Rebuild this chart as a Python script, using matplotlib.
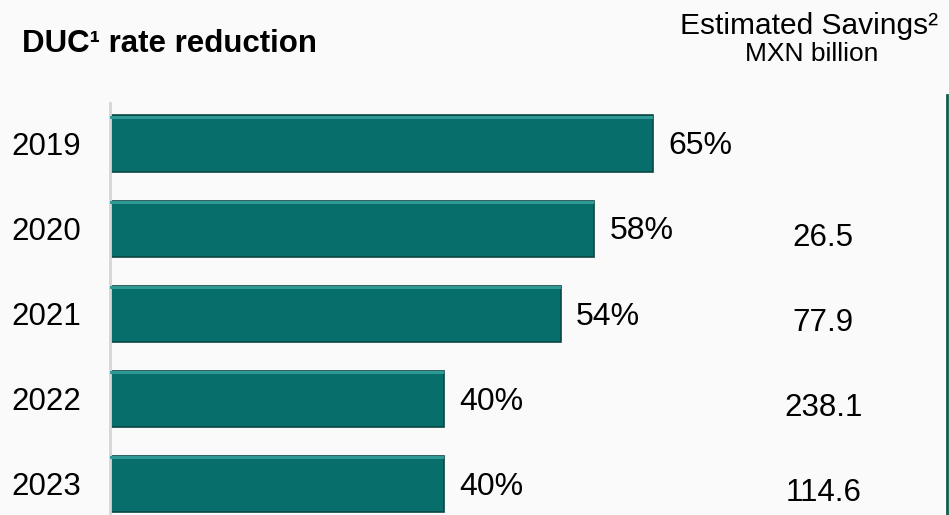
import matplotlib.pyplot as plt
from matplotlib.lines import Line2D

plt.rcParams['font.family'] = ['Liberation Sans', 'DejaVu Sans']

years = ["2019", "2020", "2021", "2022", "2023"]
duc_reduction = [65, 58, 54, 40, 40]          # percent
savings = [None, 26.5, 77.9, 238.1, 114.6]    # MXN billion

bar_color = "#076e6c"
edge_dark = "#0b4644"
edge_light = "#2f9a95"

fig = plt.figure(figsize=(9.49, 5.15), dpi=100)
fig.patch.set_facecolor("#fafafa")

ax = fig.add_axes([110 / 949, 0, 835 / 949, 412 / 515])
ax.set_facecolor("none")

pos = list(range(len(years)))
h = 0.66
ax.barh(pos, duc_reduction, height=h, color=bar_color,
        edgecolor=edge_dark, linewidth=1.2, zorder=2)
# light strip along the top of each bar for the bevel look
ax.barh([p - h / 2 + 0.022 for p in pos], duc_reduction, height=0.03,
        color=edge_light, linewidth=0, zorder=3)

ax.set_xlim(0, 100)
ax.set_ylim(4.365, -0.476)

ax.set_yticks(pos)
ax.set_yticklabels(years, fontsize=22.5)
ax.tick_params(axis="y", length=0, pad=21)
ax.set_xticks([])

for side in ["top", "right", "bottom"]:
    ax.spines[side].set_visible(False)
ax.spines["left"].set_color("#d6d6d6")
ax.spines["left"].set_linewidth(2)

for p, v in zip(pos, duc_reduction):
    ax.annotate(f"{v}%", xy=(v, p), xytext=(11, -2), textcoords="offset points",
                ha="left", va="center", fontsize=23)

for p, s in zip(pos, savings):
    if s is None:
        continue
    ax.annotate(f"{s}", xy=(85.4, p), xytext=(0, -6.5), textcoords="offset points",
                ha="center", va="center", fontsize=22.5)

fig.text(22 / 949, 1 - 52 / 515, "DUC\u00b9 rate reduction", fontsize=22.5,
         fontweight="bold", ha="left", va="baseline")
fig.text(809 / 949, 1 - 34 / 515, "Estimated Savings\u00b2", fontsize=21.5,
         ha="center", va="baseline")
fig.text(812 / 949, 1 - 61 / 515, "MXN billion", fontsize=19,
         ha="center", va="baseline")

# green rule on the right edge
fig.add_artist(Line2D([946.5 / 949, 946.5 / 949], [0, 1 - 95 / 515],
                      color="#0f5e4a", linewidth=2))

fig.savefig("out.png", dpi=100, facecolor=fig.get_facecolor())
